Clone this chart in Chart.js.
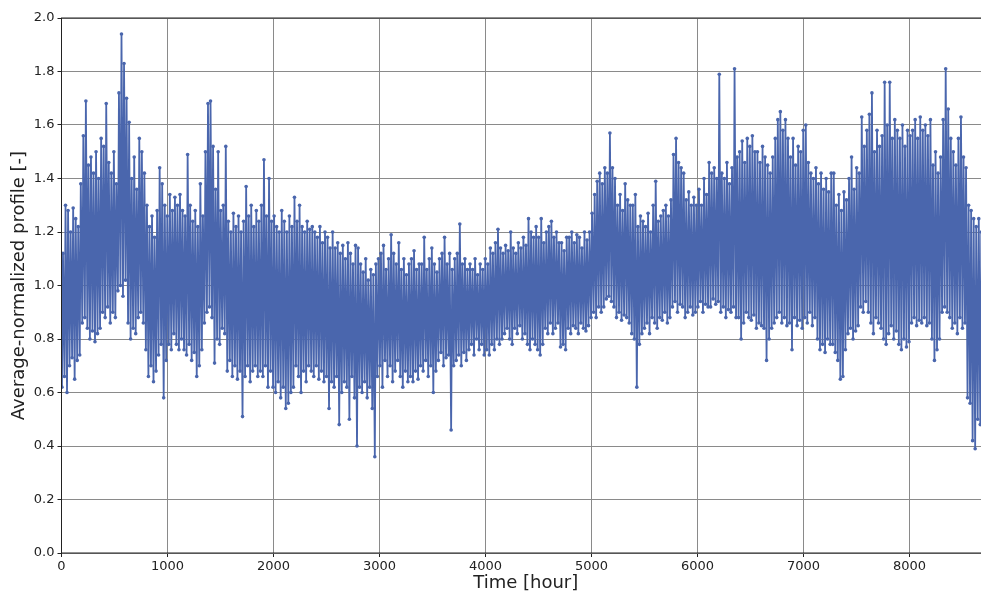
<!DOCTYPE html>
<html>
<head>
<meta charset="utf-8">
<script src="https://cdn.jsdelivr.net/npm/chart.js@4"></script>
<style>
html,body{margin:0;padding:0;background:#fff;overflow:hidden;width:981px;height:594px;}
#wrap{position:absolute;left:0;top:0;width:1000px;height:594px;}
</style>
</head>
<body>
<div id="wrap"><canvas id="c" width="1000" height="594"></canvas></div>
<script>
// Daily minimum (night) and maximum (day) of the hourly average-normalized profile
const dailyLow = [
0.62,0.66,0.60,0.70,0.73,0.65,0.72,
0.74,0.86,0.88,0.84,
0.80,0.83,0.79,0.82,
0.84,0.90,0.88,0.92,
0.86,0.90,0.88,
0.98,1.00,0.96,1.02,
0.86,0.80,0.84,0.82,
0.88,0.90,0.86,
0.76,0.66,0.70,0.64,0.68,
0.74,0.78,
0.58,0.72,0.78,0.76,
0.82,0.78,0.76,0.80,
0.76,0.74,0.78,0.72,0.75,0.66,0.70,0.76,
0.86,0.90,0.92,0.88,
0.71,0.80,0.78,0.84,0.82,
0.68,0.72,0.66,0.70,0.65,0.68,0.51,
0.66,0.70,0.64,0.68,0.70,0.66,0.68,
0.66,0.70,0.62,0.68,
0.62,0.60,0.64,0.58,0.62,0.54,0.56,0.60,0.62,
0.70,0.66,0.60,0.68,0.64,0.70,
0.68,0.66,0.70,0.65,0.68,0.64,0.66,0.54,
0.64,0.62,0.66,0.48,0.60,0.64,0.62,0.50,0.66,0.58,0.40,
0.62,0.60,0.64,0.58,0.62,0.54,0.36,
0.66,0.70,0.62,0.72,
0.66,0.70,0.64,0.68,0.72,0.66,0.62,0.68,0.64,
0.66,0.64,0.68,0.65,
0.70,0.68,0.72,0.66,0.70,0.60,0.68,
0.72,0.75,0.70,0.73,0.74,0.46,0.70,
0.72,0.74,0.70,0.75,0.72,
0.76,0.78,0.74,0.80,0.76,0.78,0.74,0.76,
0.74,0.78,0.76,0.80,0.78,
0.80,0.82,0.84,0.80,0.78,0.84,0.82,0.85,0.80,0.82,
0.78,0.76,0.80,0.78,
0.76,0.74,0.78,
0.84,0.82,0.86,0.82,0.84,0.86,
0.77,0.78,0.76,
0.84,0.82,0.85,0.84,0.82,0.86,0.84,0.83,0.85,
0.88,0.90,0.88,0.92,0.90,
0.92,0.95,0.96,0.94,0.92,
0.88,0.90,0.87,0.89,0.88,0.86,
0.82,0.80,0.62,0.78,0.82,
0.84,0.86,0.82,0.88,0.86,0.84,0.88,
0.87,0.90,0.86,0.88,
0.92,0.94,0.90,0.93,0.92,
0.88,0.90,0.92,0.89,0.90,
0.92,0.94,0.90,0.93,0.92,
0.92,0.95,0.93,0.94,
0.90,0.92,0.88,0.91,0.90,0.92,0.88,
0.88,0.80,0.86,0.90,0.88,0.87,0.89,
0.84,0.86,0.85,0.84,
0.72,0.80,0.84,
0.86,0.88,0.90,0.86,0.88,0.85,
0.86,0.76,0.88,0.85,0.87,0.84,
0.88,0.86,0.90,0.85,0.88,
0.80,0.76,0.78,0.75,0.80,0.78,
0.78,0.75,0.72,0.65,0.66,0.76,
0.82,0.84,0.80,0.83,0.85,
0.92,0.90,0.94,0.90,
0.86,0.82,0.88,0.86,
0.84,0.80,0.78,0.82,0.85,0.80,0.83,
0.78,0.76,0.80,0.77,0.79,
0.86,0.88,0.85,0.87,0.86,0.88,0.85,0.86,
0.80,0.72,0.76,0.80,
0.90,0.92,0.90,0.88,
0.84,0.86,0.82,0.88,0.84,0.86,
0.58,0.56,0.42,
0.39,0.50,0.48,0.52,0.55,0.56
];
const dailyHigh = [
1.12,1.30,1.28,1.20,1.29,1.25,1.22,
1.38,1.56,1.69,1.45,
1.48,1.42,1.50,1.40,
1.55,1.52,1.68,1.46,
1.42,1.50,1.38,
1.72,1.94,1.83,1.70,
1.61,1.40,1.48,1.36,
1.55,1.50,1.42,
1.30,1.22,1.26,1.18,1.28,
1.44,1.38,
1.30,1.26,1.34,1.28,
1.33,1.30,1.34,1.28,
1.26,1.49,1.30,1.24,1.28,1.22,1.38,1.26,
1.50,1.68,1.69,1.52,
1.36,1.50,1.28,1.30,1.52,
1.24,1.20,1.27,1.22,1.26,1.20,1.24,
1.37,1.26,1.30,1.22,1.28,1.24,1.30,
1.47,1.26,1.40,1.24,
1.26,1.22,1.20,1.28,1.24,1.20,1.26,1.22,1.33,
1.24,1.30,1.22,1.20,1.24,1.21,
1.22,1.20,1.18,1.22,1.16,1.20,1.18,1.14,
1.20,1.14,1.16,1.12,1.15,1.10,1.16,1.12,1.08,1.15,1.14,
1.08,1.05,1.10,1.02,1.06,1.04,1.08,
1.10,1.12,1.15,1.06,
1.10,1.19,1.12,1.08,1.16,1.06,1.10,1.04,1.08,
1.10,1.13,1.06,1.08,
1.08,1.18,1.06,1.10,1.14,1.08,1.05,
1.10,1.12,1.18,1.08,1.12,1.06,1.10,
1.12,1.23,1.08,1.10,1.06,
1.08,1.06,1.10,1.04,1.08,1.06,1.10,1.08,
1.14,1.12,1.16,1.21,1.14,
1.12,1.15,1.13,1.20,1.14,1.12,1.16,1.14,1.18,1.15,
1.25,1.20,1.18,1.22,
1.18,1.25,1.16,
1.20,1.22,1.24,1.18,1.20,1.16,
1.16,1.13,1.18,
1.18,1.20,1.16,1.19,1.18,1.14,1.20,1.17,1.20,
1.27,1.34,1.39,1.42,1.38,
1.44,1.42,1.57,1.44,1.40,
1.30,1.34,1.28,1.38,1.32,1.30,
1.30,1.34,1.22,1.26,1.24,
1.22,1.27,1.20,1.30,1.39,1.24,1.26,
1.28,1.30,1.26,1.32,
1.49,1.55,1.46,1.44,1.42,
1.32,1.35,1.30,1.33,1.30,
1.36,1.30,1.40,1.34,1.46,
1.42,1.44,1.40,1.79,
1.42,1.40,1.46,1.38,1.44,1.81,1.48,
1.50,1.54,1.46,1.55,1.52,1.56,1.50,
1.50,1.46,1.52,1.48,
1.45,1.42,1.48,
1.55,1.62,1.65,1.58,1.62,1.55,
1.48,1.55,1.45,1.52,1.50,1.58,
1.60,1.46,1.42,1.40,1.44,
1.38,1.42,1.36,1.40,1.35,1.42,
1.42,1.30,1.34,1.28,1.35,1.32,
1.40,1.48,1.36,1.44,1.42,
1.63,1.52,1.58,1.64,
1.72,1.50,1.58,1.52,
1.56,1.76,1.60,1.76,1.55,1.62,1.58,
1.55,1.60,1.52,1.58,1.56,
1.58,1.62,1.55,1.63,1.58,1.60,1.56,1.62,
1.45,1.50,1.42,1.48,
1.62,1.81,1.66,1.55,
1.50,1.45,1.55,1.63,1.48,1.44,
1.30,1.28,1.25,
1.22,1.25,1.20,1.22,1.20,1.22
];
const hoursPerDay = 24;
const lowHourOfDay = 4;    // hour of the day at which the night minimum occurs
const highHourOfDay = 14;  // hour of the day at which the day maximum occurs
const xTickValues = [0,1000,2000,3000,4000,5000,6000,7000,8000];
const yTickValues = [0.0,0.2,0.4,0.6,0.8,1.0,1.2,1.4,1.6,1.8,2.0];
const xMax = 8760;

const series = [];
const nDays = Math.min(dailyLow.length, dailyHigh.length);
for (let d = 0; d < nDays; d++) {
  series.push({x: d*hoursPerDay + lowHourOfDay, y: dailyLow[d]});
  series.push({x: d*hoursPerDay + highHourOfDay, y: dailyHigh[d]});
}

const FONT = "'DejaVu Sans', sans-serif";
const frame = {
  id: 'frame',
  afterDraw(chart) {
    const {ctx, chartArea: a} = chart;
    ctx.save();
    ctx.strokeStyle = '#222';
    ctx.lineWidth = 1;
    ctx.strokeRect(a.left, a.top, a.right - a.left, a.bottom - a.top);
    ctx.restore();
  }
};

new Chart(document.getElementById('c'), {
  type: 'line',
  data: {
    datasets: [{
      data: series,
      borderColor: '#4a66ad',
      backgroundColor: '#4a66ad',
      borderWidth: 1.8,
      pointRadius: 1.8,
      pointBorderWidth: 0,
      pointHoverRadius: 0,
      tension: 0,
      fill: false
    }]
  },
  options: {
    responsive: false,
    animation: false,
    events: [],
    layout: {padding: {left: 0, top: 18, right: 10, bottom: 0}},
    plugins: {legend: {display: false}, tooltip: {enabled: false}},
    scales: {
      x: {
        type: 'linear',
        min: 0, max: xMax,
        afterBuildTicks(s) { s.ticks = xTickValues.map(v => ({value: v})); },
        afterFit(s) { s.height = 41; },
        border: {display: false},
        grid: {color: '#8a8a8a', lineWidth: 1, borderDash: [1, 2], drawTicks: true, tickLength: 4, tickColor: '#222', tickBorderDash: [], tickWidth: 1},
        ticks: {color: '#222', font: {family: FONT, size: 13}, padding: 2, maxRotation: 0, callback: v => String(v)},
        title: {display: true, text: 'Time [hour]', color: '#222', font: {family: FONT, size: 18}, padding: {top: 0, bottom: 0}}
      },
      y: {
        type: 'linear',
        min: 0, max: 2,
        afterBuildTicks(s) { s.ticks = yTickValues.map(v => ({value: v})); },
        afterFit(s) { s.width = 61.5; },
        border: {display: false},
        grid: {color: '#8a8a8a', lineWidth: 1, borderDash: [1, 2], drawTicks: true, tickLength: 4, tickColor: '#222', tickBorderDash: [], tickWidth: 1},
        ticks: {color: '#222', font: {family: FONT, size: 13}, padding: 3, callback: v => Number(v).toFixed(1)},
        title: {display: true, text: 'Average-normalized profile [-]', color: '#222', font: {family: FONT, size: 18}, padding: {top: 9, bottom: 0}}
      }
    }
  },
  plugins: [frame]
});
</script>
</body>
</html>
